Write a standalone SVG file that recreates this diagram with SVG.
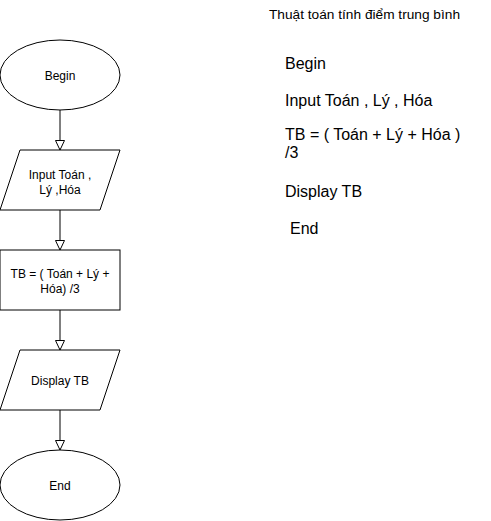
<svg xmlns="http://www.w3.org/2000/svg" width="491" height="521" viewBox="0 0 491 521">
  <style>
    .shape { fill: #ffffff; stroke: #000000; stroke-width: 1; }
    .edge { fill: none; stroke: #000000; stroke-width: 1; }
    .label { font-family: "Liberation Sans", Arial, sans-serif; font-size: 12px; fill: #000000; text-anchor: middle; }
    .note { font-family: "Liberation Sans", Arial, sans-serif; font-size: 16px; fill: #000000; }
    .title { font-family: "Liberation Sans", Arial, sans-serif; font-size: 13.7px; fill: #000000; }
  </style>
  <defs>
    <marker id="openBlock" markerWidth="12" markerHeight="12" refX="10" refY="5" orient="auto" markerUnits="userSpaceOnUse" viewBox="0 0 12 10">
      <path d="M0.5,0.5 L10,5 L0.5,9.5 Z" fill="#ffffff" stroke="#000000" stroke-width="1"/>
    </marker>
  </defs>
  <rect width="491" height="521" fill="#ffffff"/>

  <!-- connectors -->
  <g id="edges">
    <path class="edge" d="M60,110 L60,150" marker-end="url(#openBlock)"/>
    <path class="edge" d="M60,210 L60,250" marker-end="url(#openBlock)"/>
    <path class="edge" d="M60,310 L60,350" marker-end="url(#openBlock)"/>
    <path class="edge" d="M60,410 L60,450" marker-end="url(#openBlock)"/>
  </g>

  <g id="begin">
    <ellipse class="shape" cx="60" cy="75" rx="60" ry="35"/>
    <text class="label" x="60" y="79.5">Begin</text>
  </g>

  <g id="input">
    <polygon class="shape" points="20,150 120,150 100,210 0,210"/>
    <text class="label" x="60" y="179">Input Toán ,</text>
    <text class="label" x="60" y="194"> Lý ,Hóa</text>
  </g>

  <g id="compute">
    <rect class="shape" x="0" y="250" width="120" height="60"/>
    <text class="label" x="60" y="278">TB = ( Toán + Lý +</text>
    <text class="label" x="60" y="293">Hóa) /3</text>
  </g>

  <g id="display">
    <polygon class="shape" points="20,350 120,350 100,410 0,410"/>
    <text class="label" x="60" y="384.5">Display TB</text>
  </g>

  <g id="end">
    <ellipse class="shape" cx="60" cy="485" rx="60" ry="35"/>
    <text class="label" x="60" y="489.5">End</text>
  </g>

  <!-- algorithm description -->
  <g id="description">
    <text class="title" x="269" y="18.5">Thuật toán tính điểm trung bình</text>
    <text class="note" x="285" y="68.5">Begin</text>
    <text class="note" x="285" y="106">Input Toán , Lý , Hóa</text>
    <text class="note" x="285" y="139.5">TB = ( Toán + Lý + Hóa )</text>
    <text class="note" x="285" y="158">/3</text>
    <text class="note" x="285" y="197">Display TB</text>
    <text class="note" x="290" y="234">End</text>
  </g>
</svg>
